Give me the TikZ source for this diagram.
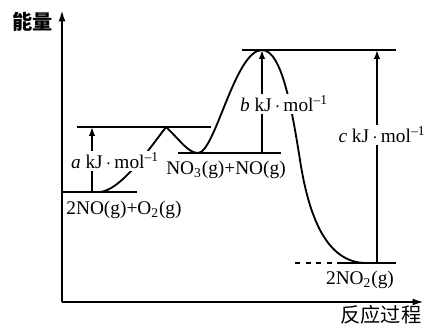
\documentclass[tikz,border=0pt]{standalone}
\usepackage{fontspec}
\setmainfont{Liberation Serif}
\newfontfamily\cjk{Noto Sans CJK SC}
\usetikzlibrary{arrows.meta}

\begin{document}
\begin{tikzpicture}[x=0.2mm,y=-0.2mm,font=\fontsize{11}{13}\selectfont,
  ax/.style={line width=1.2pt,-{Latex[length=6.5pt,width=4pt]}},
  lvl/.style={line width=1.05pt},
  gap/.style={line width=1.05pt,-{Latex[length=5pt,width=3.6pt]}},
  lab/.style={fill=white,inner sep=1pt}]
\useasboundingbox (0,0) rectangle (430,324);
% axes
\coordinate (O) at (62,302);
\coordinate (ytop) at (62,10);
\coordinate (xend) at (424,302);
\draw[ax] (O)--(ytop);
\draw[ax] (O)--(xend);
\node[font=\cjk\bfseries\fontsize{11.5}{13}\selectfont] (elab) at (33,22) {能量};
\node[font=\cjk\fontsize{11.5}{13}\selectfont] (plab) at (381,315) {反应过程};
% levels
\coordinate (r0) at (62,192);  \coordinate (r1) at (137,192);
\coordinate (t0) at (77,127);  \coordinate (t1) at (211,127);
\coordinate (m0) at (178,153); \coordinate (m1) at (281,153);
\coordinate (u0) at (242,50);  \coordinate (u1) at (396,50);
\coordinate (p0) at (295,263); \coordinate (p1) at (337,263); \coordinate (p2) at (396,263);
\draw[lvl] (r0)--(r1);
\draw[lvl] (t0)--(t1);
\draw[lvl] (m0)--(m1);
\draw[lvl] (u0)--(u1);
\draw[lvl,dashed] (p0)--(p1);
\draw[lvl] (p1)--(p2);
% reaction path
\coordinate (s) at (100,192);
\coordinate (ts1) at (166,127);
\coordinate (im) at (198,153);
\coordinate (ts2) at (262,50);
\coordinate (bend) at (300,160);
\coordinate (pr) at (365,263);
\draw[lvl] (s) .. controls (120,190) and (145,155) .. (ts1)
  .. controls (180,140) and (188,153) .. (im)
  .. controls (215,153) and (235,50) .. (ts2)
  .. controls (282,50) and (292,110) .. (bend)
  .. controls (310,225) and (330,262) .. (pr);
% energy gaps
\coordinate (a0) at (92,192);  \coordinate (a1) at (92,127);
\coordinate (b0) at (262,153); \coordinate (b1) at (262,50);
\coordinate (c0) at (377,263); \coordinate (c1) at (377,50);
\draw[gap] (a0)--(a1);
\draw[gap] (b0)--(b1);
\draw[gap] (c0)--(c1);
\node[lab] (alab) at (115,161) {\textit{a} kJ\,$\cdot$\,mol\textsuperscript{–1}};
\node[lab] (blab) at (284,104) {\textit{b} kJ\,$\cdot$\,mol\textsuperscript{–1}};
\node[lab] (clab) at (382,135) {\textit{c} kJ\,$\cdot$\,mol\textsuperscript{–1}};
% species
\node (rlab) at (124,210) {2NO(g)+O\textsubscript{2}(g)};
\node (mlab) at (226,170) {NO\textsubscript{3}(g)+NO(g)};
\node (plab2) at (360,280) {2NO\textsubscript{2}(g)};
\end{tikzpicture}
\end{document}
